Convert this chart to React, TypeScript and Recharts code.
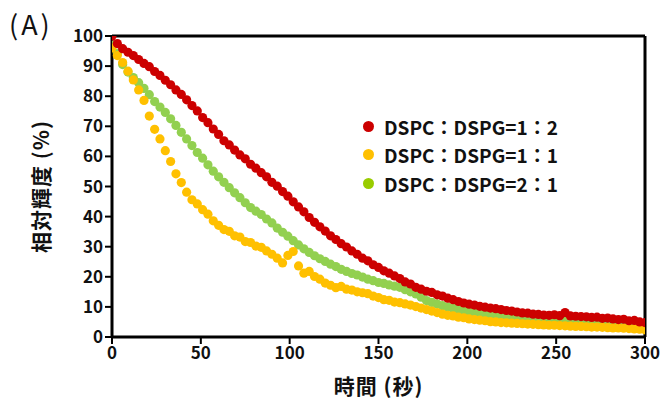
import { ScatterChart, Scatter, XAxis, YAxis, ReferenceLine } from 'recharts'

const times = [
  0, 3, 6, 9, 12, 15, 18, 21, 24, 27, 30, 33, 36, 39, 42, 45, 48, 51, 54, 57,
  60, 63, 66, 69, 72, 75, 78, 81, 84, 87, 90, 93, 96, 99, 102, 105, 108, 111, 114, 117,
  120, 123, 126, 129, 132, 135, 138, 141, 144, 147, 150, 153, 156, 159, 162, 165, 168, 171, 174, 177,
  180, 183, 186, 189, 192, 195, 198, 201, 204, 207, 210, 213, 216, 219, 222, 225, 228, 231, 234, 237,
  240, 243, 246, 249, 252, 255, 258, 261, 264, 267, 270, 273, 276, 279, 282, 285, 288, 291, 294, 297, 300,
]

// DSPC:DSPG = 1:2
const red12 = [
  100, 97.5, 95.8, 94.6, 93.5, 92.2, 90.9, 89.8, 88.2, 86.9, 85.3, 83.8, 82.1, 80.6, 78.8, 76.9, 75.1, 72.9, 71.2, 69.1,
  67.3, 65.2, 63.8, 62.1, 60.5, 59.2, 57.4, 56.1, 54.6, 53.2, 51.4, 50.1, 48.3, 46.8, 44.9, 43.2, 41.6, 39.7, 38.1, 36.6,
  35.2, 33.6, 32.4, 31.0, 29.9, 28.6, 27.5, 26.2, 25.3, 24.0, 23.1, 22.0, 21.2, 20.3, 19.4, 18.3, 17.6, 16.5, 15.9, 15.2,
  14.8, 14.0, 13.6, 12.9, 12.4, 11.8, 11.3, 10.9, 10.6, 10.2, 9.9, 9.6, 9.4, 9.1, 8.8, 8.6, 8.3, 8.0, 7.9, 7.6,
  7.5, 7.3, 7.2, 7.4, 7.1, 8.1, 7.0, 6.9, 6.8, 6.7, 6.5, 6.6, 6.2, 6.3, 6.0, 5.8, 5.9, 5.4, 5.5, 5.0, 4.8,
]

// DSPC:DSPG = 1:1
const yellow11 = [
  96, 93.5, 91.2, 88.3, 85.4, 82.1, 78.6, 73.4, 69.0, 65.8, 61.9, 58.3, 54.2, 51.3, 48.1, 45.6, 44.2, 42.3, 40.8, 38.6,
  37.1, 35.7, 35.1, 33.6, 33.2, 31.7, 31.4, 30.2, 29.8, 28.6, 27.5, 26.2, 24.6, 27.1, 28.4, 23.6, 21.2, 21.8, 20.1, 19.2,
  17.9, 17.2, 16.4, 16.8, 15.9, 15.6, 15.0, 14.7, 14.4, 13.6, 13.1, 12.4, 12.2, 11.6, 11.4, 11.0, 10.6, 10.1, 9.6, 9.1,
  8.6, 8.1, 7.6, 7.2, 7.0, 6.6, 6.4, 6.0, 5.8, 5.6, 5.4, 5.1, 5.0, 4.8, 4.7, 4.6, 4.5, 4.4, 4.3, 4.2,
  4.1, 4.0, 3.9, 3.9, 3.8, 3.7, 3.6, 3.5, 3.5, 3.4, 3.3, 3.3, 3.2, 3.1, 3.0, 3.0, 2.9, 2.8, 2.7, 2.6, 2.4,
]

// DSPC:DSPG = 2:1
const green21 = [
  97, 94.2, 90.5, 88.0, 86.2, 84.5, 82.6, 80.5, 78.2, 76.4, 74.6, 72.5, 70.3, 68.0, 65.8, 63.6, 61.3, 59.4, 57.2, 55.1,
  53.2, 51.4, 49.6, 47.9, 46.3, 44.6, 43.0, 41.8, 40.7, 39.2, 37.9, 36.2, 34.8, 33.5, 32.0, 30.6, 29.3, 28.1, 27.0, 26.0,
  25.1, 24.2, 23.4, 22.5, 21.8, 21.1, 20.6, 19.9, 19.2, 18.7, 18.1, 17.8, 17.3, 16.9, 16.5, 15.7, 15.0, 14.3, 13.2, 12.1,
  11.5, 11.0, 10.4, 10.0, 9.5, 9.1, 8.7, 8.4, 8.1, 7.8, 7.5, 7.3, 7.0, 6.8, 6.6, 6.4, 6.3, 6.1, 6.0, 5.9,
  5.8, 5.7, 5.6, 5.5, 5.4, 5.3, 5.2, 5.2, 5.1, 5.0, 5.0, 4.9, 4.8, 4.7, 4.6, 4.5, 4.4, 4.3, 4.2, 4.1, 4.0,
]

const xTicks = [0, 50, 100, 150, 200, 250, 300]
const yTicks = [0, 10, 20, 30, 40, 50, 60, 70, 80, 90, 100]

const legendItems = [
  { label: 'DSPC：DSPG=1：2', color: '#cc0000' },
  { label: 'DSPC：DSPG=1：1', color: '#ffc000' },
  { label: 'DSPC：DSPG=2：1', color: '#99cc00' },
]

const FONT = '"Noto Sans CJK JP", "Noto Sans", sans-serif'

const toPoints = (ys: number[]) => times.map((t, i) => ({ t, v: ys[i] }))

const dot = (color: string) => (props: any) =>
  <circle cx={props.cx} cy={props.cy} r={4.6} fill={color} />

function LegendBox() {
  return (
    <div style={{ position: 'absolute', left: 363, top: 112, fontFamily: FONT, fontWeight: 700, fontSize: 19, color: '#111' }}>
      {legendItems.map((it) => (
        <div key={it.label} style={{ display: 'flex', alignItems: 'center', height: 28.5 }}>
          <span style={{ width: 11, height: 11, borderRadius: 6, background: it.color, marginRight: 10 }} />
          <span>{it.label}</span>
        </div>
      ))}
    </div>
  )
}

export default function App() {
  const tickStyle = { fill: '#111', fontSize: 17, fontWeight: 700, fontFamily: FONT }
  const titleStyle = { ...tickStyle, fontSize: 21, letterSpacing: 1 }
  return (
    <div style={{ position: 'absolute', left: 0, top: 0, width: 665, height: 400, background: '#fff' }}>
      <div style={{ position: 'absolute', left: 9, top: 9, fontFamily: FONT, fontSize: 27, lineHeight: '30px', letterSpacing: 3, color: '#111' }}>(A)</div>
      <ScatterChart width={665} height={400} margin={{ top: 36, right: 20, bottom: 33, left: 62 }}>
        <XAxis
          type="number"
          dataKey="t"
          domain={[0, 300]}
          ticks={xTicks}
          height={30}
          tickSize={7}
          tickMargin={3}
          tickLine={{ stroke: '#000', strokeWidth: 2 }}
          axisLine={{ stroke: '#000', strokeWidth: 3 }}
          tick={tickStyle}
          allowDataOverflow
          label={{ value: '時間 (秒)', position: 'insideBottom', offset: -27, style: titleStyle }}
        />
        <YAxis
          type="number"
          dataKey="v"
          domain={[0, 100]}
          ticks={yTicks}
          width={50}
          tickSize={7}
          tickLine={{ stroke: '#000', strokeWidth: 2 }}
          axisLine={{ stroke: '#000', strokeWidth: 3 }}
          tick={tickStyle}
          allowDataOverflow
          label={{ value: '相対輝度 (%)', angle: -90, position: 'insideLeft', offset: -20, style: { ...titleStyle, textAnchor: 'middle' } }}
        />
        <ReferenceLine y={100} stroke="#000" strokeWidth={3} />
        <ReferenceLine x={300} stroke="#000" strokeWidth={3} />
        <Scatter name="DSPC：DSPG=2：1" data={toPoints(green21)} fill="#92d050" shape={dot('#92d050')} isAnimationActive={false} />
        <Scatter name="DSPC：DSPG=1：1" data={toPoints(yellow11)} fill="#ffc000" shape={dot('#ffc000')} isAnimationActive={false} />
        <Scatter name="DSPC：DSPG=1：2" data={toPoints(red12)} fill="#cc0000" shape={dot('#cc0000')} isAnimationActive={false} />
      </ScatterChart>
      <LegendBox />
    </div>
  )
}
